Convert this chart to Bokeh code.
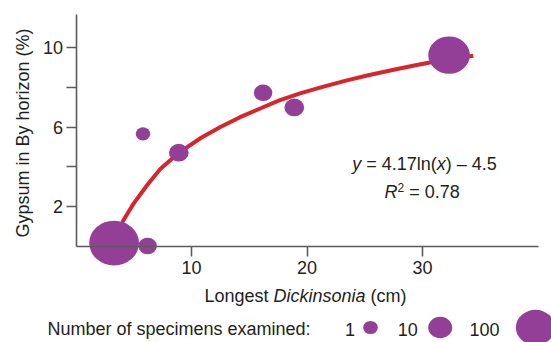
import math
from bokeh.plotting import figure
from bokeh.models import Range1d, FixedTicker, Label
from bokeh.embed import file_html
from bokeh.resources import INLINE

# ---------------- data ----------------
length_cm = [3.3, 6.2, 5.8, 8.9, 16.2, 18.9, 32.3]
gypsum_pct = [0.15, 0.0, 5.66, 4.71, 7.73, 6.99, 9.63]
specimens = [300, 3, 1, 4, 3, 4, 130]

fit_x = [4.0, 5.0, 6.2, 7.3, 8.9, 10.8, 12.5, 14.2, 16.0, 17.6, 19.4,
         21.2, 23.2, 25.2, 27.4, 29.4, 31.2, 32.9, 34.4]
fit_y = [1.2, 2.15, 3.1, 3.88, 4.7, 5.45, 6.0, 6.5, 6.95, 7.35, 7.7,
         8.0, 8.32, 8.6, 8.88, 9.12, 9.32, 9.47, 9.6]

fit_coef = "4.17"
fit_const = "4.5"
r_squared = "0.78"

x_ticks = [10, 20, 30]
y_ticks = [2, 4, 6, 8, 10]
y_labelled = [2, 6, 10]
legend_counts = [1, 10, 100]

x_axis_end = 40
y_axis_end = 11.7

# ---------------- style ----------------
PURPLE = "#943f97"
RED = "#d7262b"
AXIS = "#5b5b5b"
TEXT = "#231f20"
FONT = "Liberation Sans"
FS = 18

W, H = 551, 342
X0, Y0 = 75.5, 245.5   # pixel position of the origin
PPX = 11.55            # pixels per cm
PPY = 19.82            # pixels per %
BASE_SHIFT = 6         # label baseline correction

x_start, x_end = -X0 / PPX, (W - X0) / PPX
y_start, y_end = -(H - Y0) / PPY, Y0 / PPY


def radius(n):
    return 7.3 * n ** 0.215


p = figure(width=W, height=H, x_range=Range1d(x_start, x_end), y_range=Range1d(y_start, y_end),
           output_backend="svg", toolbar_location=None,
           min_border_left=0, min_border_right=0, min_border_top=0, min_border_bottom=0)
p.outline_line_color = None
p.xgrid.visible = False
p.ygrid.visible = False
p.background_fill_color = "white"
p.border_fill_color = "white"

p.extra_x_ranges["px_x"] = Range1d(0, W)
p.extra_y_ranges["px_y"] = Range1d(H, 0)

for ax in (p.xaxis[0], p.yaxis[0]):
    ax.fixed_location = 0
    ax.axis_line_color = AXIS
    ax.axis_line_width = 1.6
    ax.major_tick_line_color = AXIS
    ax.major_tick_line_width = 1.6
    ax.major_tick_out = 10
    ax.major_tick_in = 0
    ax.minor_tick_out = 0
    ax.minor_tick_in = 0
    ax.major_label_text_font = FONT
    ax.major_label_text_font_size = f"{FS}px"
    ax.major_label_text_color = TEXT

xa = p.xaxis[0]
xa.bounds = (0, x_axis_end)
xa.ticker = FixedTicker(ticks=x_ticks)
xa.major_label_standoff = 5

ya = p.yaxis[0]
ya.bounds = (0, y_axis_end)
ya.ticker = FixedTicker(ticks=y_ticks)
ya.major_label_overrides = {t: "" for t in y_ticks if t not in y_labelled}
ya.major_label_standoff = 3

# fitted curve
p.line(fit_x, fit_y, line_color=RED, line_width=4)

# bubbles
rx = [2 * radius(n) for n in specimens]
ry = [0.9 * w for w in rx]
p.ellipse(x=length_cm, y=gypsum_pct, width=rx, height=ry,
          width_units="screen", height_units="screen",
          fill_color=PURPLE, line_color=None)

# ---------------- text helpers ----------------
WT = {" ": 278, "(": 333, ")": 333, "%": 889, ".": 278, ":": 278, "=": 584, "\u2013": 556,
      "A": 667, "B": 667, "C": 722, "D": 722, "G": 778, "L": 556, "N": 722, "R": 722,
      "a": 556, "b": 556, "c": 500, "d": 556, "e": 556, "f": 278, "g": 556, "h": 556,
      "i": 222, "k": 500, "l": 222, "m": 833, "n": 556, "o": 556, "p": 556, "r": 333,
      "s": 500, "t": 278, "u": 556, "x": 500, "y": 500, "z": 500}


def tw(s, size):
    return sum(WT.get(c, 556) for c in s) * size / 1000.0


def add_text(text, x, y, size=FS, style="normal", align="left", baseline="alphabetic", angle=0):
    if baseline == "alphabetic":
        y -= BASE_SHIFT * size / FS
    p.add_layout(Label(x=x, y=y, x_units="data", y_units="data",
                       x_range_name="px_x", y_range_name="px_y",
                       text=text, text_font=FONT, text_font_size=f"{size}px",
                       text_font_style=style, text_color=TEXT,
                       text_align=align, text_baseline=baseline, angle=angle))


def add_runs(runs, x, y, align="center"):
    total = sum(tw(t, s) for t, _, s, _ in runs)
    cx = x - total / 2 if align == "center" else x
    for t, st, s, dy in runs:
        body = t.lstrip(" ")
        cx += tw(t[:len(t) - len(body)], s)
        add_text(body, cx, y - dy, size=s, style=st)
        cx += tw(body, s)


# y axis label
add_text("Gypsum in By horizon (%)", 22, 132.5, align="center", baseline="middle",
         angle=math.pi / 2)

# x axis label
add_runs([("Longest ", "normal", FS, 0), ("Dickinsonia", "italic", FS, 0),
          (" (cm)", "normal", FS, 0)], 305, 301.5)

# equation
add_runs([("y", "italic", FS, 0), (f" = {fit_coef}ln(", "normal", FS, 0),
          ("x", "italic", FS, 0), (f") \u2013 {fit_const}", "normal", FS, 0)], 424, 169)
add_runs([("R", "italic", FS, 0), ("2", "normal", 12, 7),
          (f" = {r_squared}", "normal", FS, 0)], 421.7, 197.7)

# size legend
add_text("Number of specimens examined:", 47, 334.5)
leg_text_x = [344.5, 397.3, 469]
leg_bub_x = [370, 439.7, 535]
leg_y = 327
for n, tx in zip(legend_counts, leg_text_x):
    add_text(str(n), tx, 334.5)
lw = [2 * radius(n) for n in legend_counts]
p.ellipse(x=leg_bub_x, y=[leg_y] * 3, width=lw, height=[0.9 * w for w in lw],
          width_units="screen", height_units="screen",
          fill_color=PURPLE, line_color=None,
          x_range_name="px_x", y_range_name="px_y")

open("out.html", "w").write(file_html(p, INLINE))
